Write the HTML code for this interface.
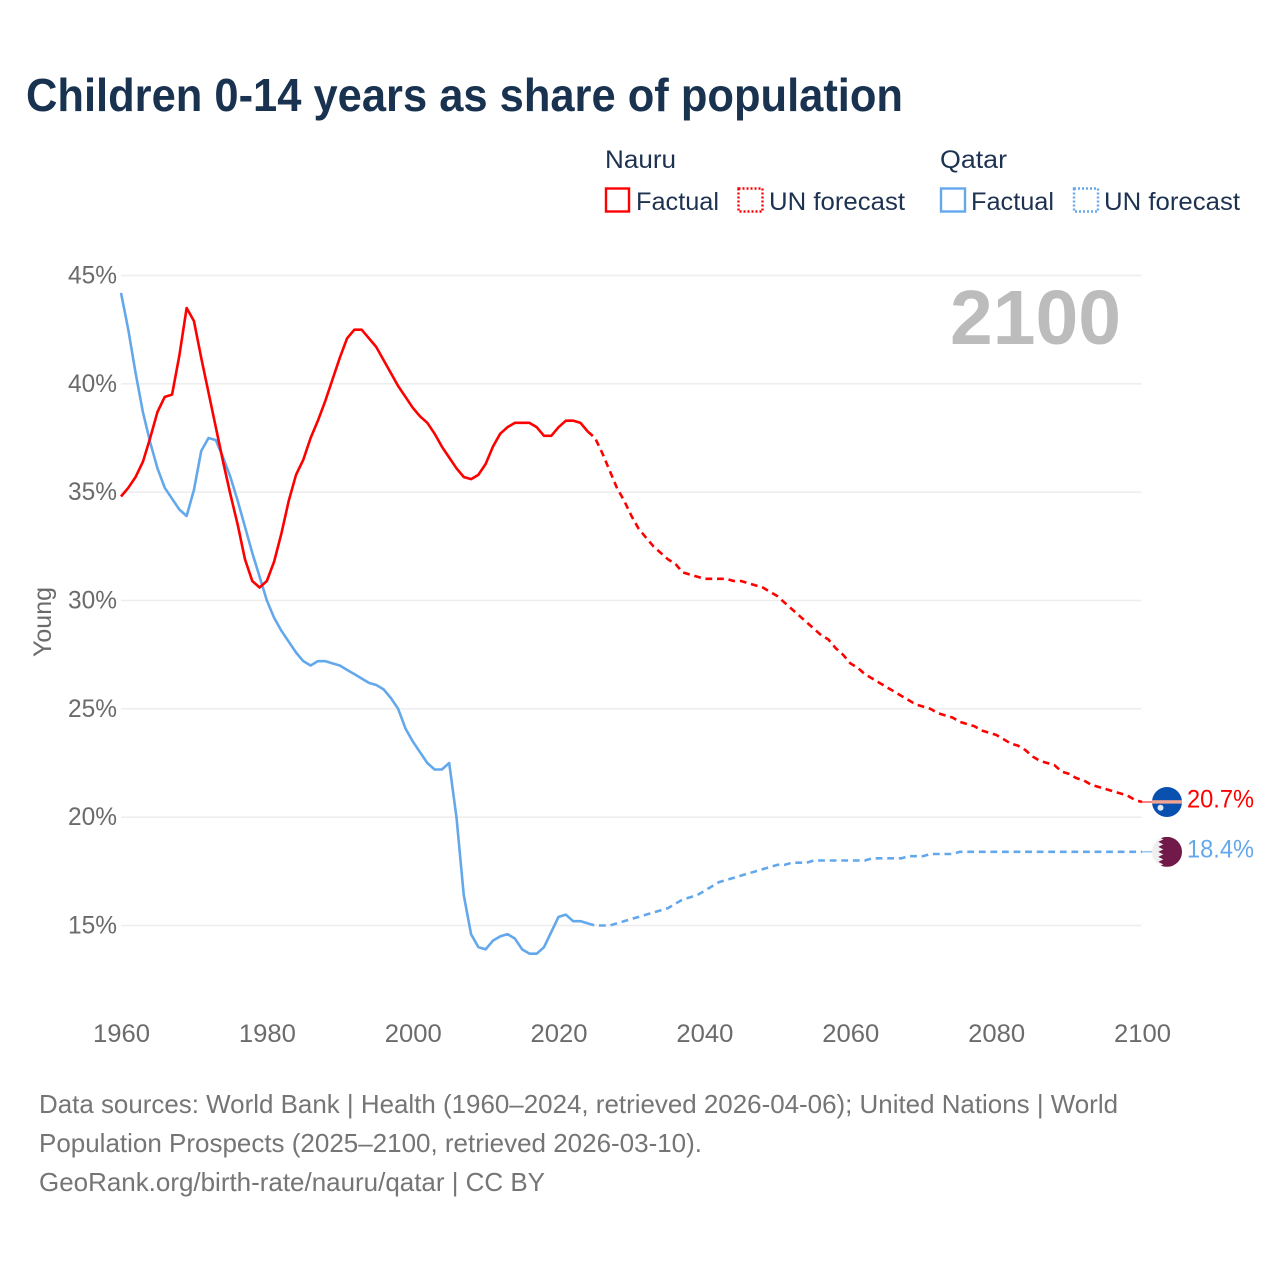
<!DOCTYPE html>
<html lang="en">
<head>
<meta charset="utf-8">
<title>Children 0-14 years as share of population</title>
<style>
  html, body { margin: 0; padding: 0; background: #fff; }
  svg { display: block; }
  text { font-family: "Liberation Sans", sans-serif; }
</style>
</head>
<body>
<svg id="chart" xmlns="http://www.w3.org/2000/svg" width="1280" height="1280" viewBox="0 0 1280 1280">
  <rect x="0" y="0" width="1280" height="1280" fill="#fff"/>
  <text x="26" y="111" font-size="46" font-weight="700" fill="#18324f" textLength="877" lengthAdjust="spacingAndGlyphs">Children 0-14 years as share of population</text>

  <g font-size="25" fill="#1d3250">
    <text x="605" y="168" textLength="71" lengthAdjust="spacingAndGlyphs">Nauru</text>
    <text x="940" y="168" textLength="67" lengthAdjust="spacingAndGlyphs">Qatar</text>
    <rect x="606" y="188.5" width="23" height="23" fill="none" stroke="#ff0000" stroke-width="2.4"/>
    <text x="636" y="210" textLength="83" lengthAdjust="spacingAndGlyphs">Factual</text>
    <rect x="738.5" y="188.5" width="24" height="23" fill="none" stroke="#ff0000" stroke-width="2.4" stroke-dasharray="2 2"/>
    <text x="769" y="210" textLength="136" lengthAdjust="spacingAndGlyphs">UN forecast</text>
    <rect x="941" y="188.5" width="24" height="23" fill="none" stroke="#64a8ec" stroke-width="2.4"/>
    <text x="971" y="210" textLength="83" lengthAdjust="spacingAndGlyphs">Factual</text>
    <rect x="1074" y="188.5" width="24" height="23" fill="none" stroke="#64a8ec" stroke-width="2.4" stroke-dasharray="2 2"/>
    <text x="1104" y="210" textLength="136" lengthAdjust="spacingAndGlyphs">UN forecast</text>
  </g>

  <g id="grid"></g>
  <g id="yticks"></g>
  <g id="xticks"></g>
  <text transform="translate(51 622) rotate(-90)" text-anchor="middle" font-size="24.6" fill="#6b6b6b" textLength="70" lengthAdjust="spacingAndGlyphs">Young</text>
  <text x="950" y="344" font-size="77" font-weight="700" fill="#bcbcbc" textLength="171" lengthAdjust="spacingAndGlyphs">2100</text>
  <g id="series"></g>
  <g id="ends"></g>

  <g font-size="26" fill="#757575">
    <text x="39" y="1113" textLength="1079" lengthAdjust="spacingAndGlyphs">Data sources: World Bank | Health (1960–2024, retrieved 2026-04-06); United Nations | World</text>
    <text x="39" y="1152" textLength="663" lengthAdjust="spacingAndGlyphs">Population Prospects (2025–2100, retrieved 2026-03-10).</text>
    <text x="39" y="1191" textLength="506" lengthAdjust="spacingAndGlyphs">GeoRank.org/birth-rate/nauru/qatar | CC BY</text>
  </g>
</svg>
<script>
const yTicks = [15, 20, 25, 30, 35, 40, 45];
const xTicks = [1960, 1980, 2000, 2020, 2040, 2060, 2080, 2100];
const factualStartYear = 1960;
const forecastStartYear = 2024;
const nauruFactual = [34.8,35.2,35.7,36.4,37.5,38.7,39.4,39.5,41.3,43.5,42.9,41.2,39.6,38.0,36.4,34.9,33.5,31.9,30.9,30.6,30.9,31.8,33.1,34.6,35.8,36.5,37.5,38.3,39.2,40.2,41.2,42.1,42.5,42.5,42.1,41.7,41.1,40.5,39.9,39.4,38.9,38.5,38.2,37.7,37.1,36.6,36.1,35.7,35.6,35.8,36.3,37.1,37.7,38.0,38.2,38.2,38.2,38.0,37.6,37.6,38.0,38.3,38.3,38.2,37.8];
const nauruForecast = [37.8,37.5,36.8,36.0,35.2,34.6,33.9,33.3,32.9,32.5,32.2,31.9,31.7,31.3,31.2,31.1,31.0,31.0,31.0,31.0,30.9,30.9,30.8,30.7,30.6,30.4,30.2,29.9,29.6,29.3,29.0,28.7,28.4,28.2,27.8,27.5,27.1,26.9,26.6,26.4,26.2,26.0,25.8,25.6,25.4,25.2,25.1,25.0,24.8,24.7,24.6,24.4,24.3,24.2,24.0,23.9,23.8,23.6,23.4,23.3,23.1,22.8,22.6,22.5,22.4,22.1,22.0,21.8,21.7,21.5,21.4,21.3,21.2,21.1,21.0,20.8,20.7];
const qatarFactual = [44.2,42.5,40.5,38.7,37.3,36.1,35.2,34.7,34.2,33.9,35.1,36.9,37.5,37.4,36.6,35.7,34.6,33.4,32.2,31.1,30.0,29.2,28.6,28.1,27.6,27.2,27.0,27.2,27.2,27.1,27.0,26.8,26.6,26.4,26.2,26.1,25.9,25.5,25.0,24.1,23.5,23.0,22.5,22.2,22.2,22.5,20.0,16.4,14.6,14.0,13.9,14.3,14.5,14.6,14.4,13.9,13.7,13.7,14.0,14.7,15.4,15.5,15.2,15.2,15.1];
const qatarForecast = [15.1,15.0,15.0,15.0,15.1,15.2,15.3,15.4,15.5,15.6,15.7,15.8,16.0,16.2,16.3,16.4,16.6,16.8,17.0,17.1,17.2,17.3,17.4,17.5,17.6,17.7,17.8,17.8,17.9,17.9,17.9,18.0,18.0,18.0,18.0,18.0,18.0,18.0,18.0,18.1,18.1,18.1,18.1,18.1,18.2,18.2,18.2,18.3,18.3,18.3,18.3,18.4,18.4,18.4,18.4,18.4,18.4,18.4,18.4,18.4,18.4,18.4,18.4,18.4,18.4,18.4,18.4,18.4,18.4,18.4,18.4,18.4,18.4,18.4,18.4,18.4,18.4];

const NS = 'http://www.w3.org/2000/svg';
const xScale = function (year) { return 121 + (year - 1960) * (1021 / 140); };
const yScale = function (pct) { return 275.5 + (45 - pct) * (650 / 30); };
const make = function (tag, parentId) {
  const el = document.createElementNS(NS, tag);
  document.getElementById(parentId).appendChild(el);
  return el;
};
const pointsFrom = function (values, startYear) {
  return values.map(function (v, i) {
    return xScale(startYear + i).toFixed(2) + ',' + yScale(v).toFixed(2);
  }).join(' ');
};

yTicks.forEach(function (t) {
  const line = make('line', 'grid');
  
  
  line.setAttribute('x1', xScale(1960));
  line.setAttribute('x2', 1141.5);
  line.setAttribute('y1', yScale(t));
  line.setAttribute('y2', yScale(t));
  line.setAttribute('stroke', '#eeeeee');
  line.setAttribute('stroke-width', '1.6');
  const label = make('text', 'yticks');
  
  
  label.setAttribute('x', 117);
  label.setAttribute('y', yScale(t) + 8);
  label.setAttribute('text-anchor', 'end');
  label.setAttribute('font-size', '24.6');
  label.setAttribute('fill', '#6b6b6b');
  label.setAttribute('textLength', '49');
  label.setAttribute('lengthAdjust', 'spacingAndGlyphs');
  label.textContent = t + '%';
});

xTicks.forEach(function (t) {
  const label = make('text', 'xticks');
  
  
  label.setAttribute('x', xScale(t) + 0.5);
  label.setAttribute('y', 1042);
  label.setAttribute('text-anchor', 'middle');
  label.setAttribute('font-size', '24.6');
  label.setAttribute('fill', '#6b6b6b');
  label.setAttribute('textLength', '57');
  label.setAttribute('lengthAdjust', 'spacingAndGlyphs');
  label.textContent = String(t);
});

const drawLine = function (el, values, startYear, color, dashed) {
  el.setAttribute('points', pointsFrom(values, startYear));
  el.setAttribute('fill', 'none');
  el.setAttribute('stroke', color);
  el.setAttribute('stroke-width', '2.6');
  el.setAttribute('stroke-linejoin', 'round');
  if (dashed) { el.setAttribute('stroke-dasharray', '6.8 4.77'); }
};

const qatarFactualLine = make('polyline', 'series');


drawLine(qatarFactualLine, qatarFactual, factualStartYear, '#64a8ec', false);

const qatarForecastLine = make('polyline', 'series');


drawLine(qatarForecastLine, qatarForecast, forecastStartYear, '#64a8ec', true);

const nauruFactualLine = make('polyline', 'series');


drawLine(nauruFactualLine, nauruFactual, factualStartYear, '#ff0000', false);

const nauruForecastLine = make('polyline', 'series');


drawLine(nauruForecastLine, nauruForecast, forecastStartYear, '#ff0000', true);

const nauruEnd = nauruForecast[nauruForecast.length - 1];
const qatarEnd = qatarForecast[qatarForecast.length - 1];
const nauruY = yScale(nauruEnd);
const qatarY = yScale(qatarEnd);
const endX = xScale(2100);

const qatarLink = make('line', 'ends');


qatarLink.setAttribute('x1', endX);
qatarLink.setAttribute('x2', 1153);
qatarLink.setAttribute('y1', qatarY);
qatarLink.setAttribute('y2', qatarY);
qatarLink.setAttribute('stroke', '#64a8ec');
qatarLink.setAttribute('stroke-width', '1');

const nauruLink = make('line', 'ends');


nauruLink.setAttribute('x1', endX);
nauruLink.setAttribute('x2', 1153);
nauruLink.setAttribute('y1', nauruY);
nauruLink.setAttribute('y2', nauruY);
nauruLink.setAttribute('stroke', '#ff0000');
nauruLink.setAttribute('stroke-width', '1');

const nauruFlag = make('g', 'ends');


nauruFlag.setAttribute('transform', 'translate(1167 ' + nauruY.toFixed(2) + ')');
nauruFlag.innerHTML = '<circle r="15" fill="#0a50ae"/><rect x="-15" y="-1.8" width="30" height="3.4" fill="#f6a492"/><circle cx="-6.5" cy="5.7" r="3" fill="#dfeaf8"/>';

const qatarFlag = make('g', 'ends');


qatarFlag.setAttribute('transform', 'translate(1167 ' + qatarY.toFixed(2) + ')');
qatarFlag.innerHTML = '<defs><clipPath id="qatar-clip"><circle r="15"/></clipPath></defs><g clip-path="url(#qatar-clip)"><rect x="-15" y="-15" width="30" height="30" fill="#efefef"/><polygon fill="#711a49" points="15,-15 -8.7,-15 -3.7,-12.5 -8.7,-10 -3.7,-7.5 -8.7,-5 -3.7,-2.5 -8.7,0 -3.7,2.5 -8.7,5 -3.7,7.5 -8.7,10 -3.7,12.5 -8.7,15 15,15"/></g>';

const nauruValue = make('text', 'ends');


nauruValue.setAttribute('x', 1187);
nauruValue.setAttribute('y', nauruY + 5.5);
nauruValue.setAttribute('font-size', '24.6');
nauruValue.setAttribute('fill', '#ff0000');
nauruValue.setAttribute('textLength', '67');
nauruValue.setAttribute('lengthAdjust', 'spacingAndGlyphs');
nauruValue.textContent = nauruEnd.toFixed(1) + '%';

const qatarValue = make('text', 'ends');


qatarValue.setAttribute('x', 1187);
qatarValue.setAttribute('y', qatarY + 5.5);
qatarValue.setAttribute('font-size', '24.6');
qatarValue.setAttribute('fill', '#64a8ec');
qatarValue.setAttribute('textLength', '67');
qatarValue.setAttribute('lengthAdjust', 'spacingAndGlyphs');
qatarValue.textContent = qatarEnd.toFixed(1) + '%';
</script>
</body>
</html>
